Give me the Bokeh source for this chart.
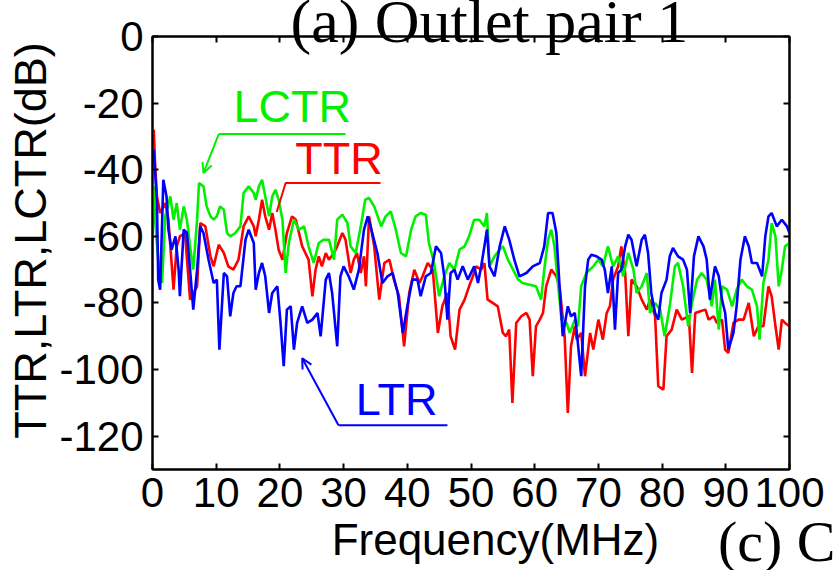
from bokeh.embed import file_html
from bokeh.models import Arrow, FixedTicker, Label, LinearAxis, OpenHead, Range1d
from bokeh.plotting import figure
from bokeh.resources import INLINE

# Frequency axis (MHz) and level axis (dB) ticks
x_ticks = [0, 10, 20, 30, 40, 50, 60, 70, 80, 90, 100]
y_ticks = [0, -20, -40, -60, -80, -100, -120]
y_tick_labels = ["0", "-20", "-40", "-60", "-80", "-100", "-120"]

# TTR (red)
ttr_freq = [
    0.2, 0.4, 0.7, 1.2, 2.0, 2.5, 3.3, 3.8, 4.3, 5.1,
    5.9, 7.0, 7.5, 8.3, 9.1, 9.6, 10.4, 11.2, 11.9, 12.7,
    13.5, 14.3, 15.1, 15.9, 16.2, 16.7, 17.2, 17.7, 18.3, 18.8,
    19.3, 19.8, 20.4, 21.1, 21.9, 22.5, 23.0, 23.5, 24.0, 24.5,
    25.1, 25.6, 26.1, 26.6, 27.2, 27.7, 28.5, 29.0, 29.8, 30.3,
    31.1, 31.6, 32.1, 32.7, 33.2, 33.5, 34.0, 34.8, 35.6, 36.4,
    37.2, 37.9, 38.7, 39.5, 40.3, 41.1, 41.9, 42.4, 43.2, 44.0,
    44.8, 45.5, 46.3, 46.8, 47.5, 48.2, 49.0, 49.7, 50.3, 50.8,
    51.6, 52.1, 52.6, 53.4, 54.2, 55.0, 55.5, 56.0, 56.5, 57.1,
    57.9, 58.7, 59.2, 59.7, 60.2, 60.8, 61.3, 61.8, 62.6, 63.4,
    63.9, 64.7, 65.2, 65.7, 66.3, 66.6, 67.3, 67.9, 68.7, 69.2,
    70.0, 70.7, 71.3, 71.8, 72.3, 73.1, 73.6, 74.2, 74.7, 75.2,
    76.0, 76.8, 77.6, 78.1, 78.9, 79.4, 80.2, 80.7, 81.5, 82.3,
    83.1, 84.2, 84.7, 85.2, 86.0, 86.8, 87.3, 88.1, 88.6, 89.4,
    89.9, 90.4, 91.2, 92.0, 92.8, 93.6, 94.4, 95.1, 95.9, 96.7,
    97.2, 97.8, 98.3, 98.8, 99.3, 100.0,
]
ttr_db = [
    -28, -38, -48, -53, -50, -55, -76, -63, -60, -59,
    -79, -75, -56, -57, -66, -69, -62.5, -65, -69, -70,
    -67, -57, -54, -57, -60, -55, -49, -54, -58, -53,
    -58, -64, -67, -59, -54, -55, -59, -63, -65, -67,
    -78, -70, -66, -69, -65, -67, -65, -63, -59, -61,
    -71, -67, -65, -71, -66, -75, -54, -63, -79, -68,
    -67, -73, -78, -93, -77, -70, -74, -72, -68, -70,
    -89, -81, -77, -90, -94, -82, -79, -75, -72, -69,
    -70, -68, -79, -80, -81, -89, -90, -88, -110, -86,
    -84, -83, -85, -102, -87, -85, -83, -75, -70, -72,
    -75, -90, -113, -93, -87, -91, -89, -102, -89, -94,
    -85, -91, -83, -81, -73, -69, -63, -71, -90, -73,
    -75, -79, -82, -79, -84, -105, -106, -90, -88, -82,
    -85, -84, -101, -83, -82.5, -82, -85, -84, -86, -85,
    -94, -95, -86, -85, -85, -80, -90, -87, -87, -75,
    -78, -87, -94, -85, -86, -87,
]

# LCTR (green)
lctr_freq = [
    0.2, 0.4, 0.9, 1.5, 2.0, 2.8, 3.3, 3.8, 4.3, 4.9,
    5.4, 5.9, 6.4, 7.0, 7.3, 8.0, 8.5, 9.1, 9.6, 10.1,
    10.6, 11.2, 11.7, 12.2, 13.0, 13.8, 14.3, 15.1, 15.9, 16.2,
    16.7, 17.2, 17.7, 18.3, 18.8, 19.3, 19.8, 20.4, 20.9, 21.4,
    22.2, 23.0, 23.8, 24.5, 25.3, 26.1, 26.9, 27.7, 28.5, 29.0,
    29.8, 30.6, 31.1, 31.9, 32.7, 33.4, 34.0, 34.8, 35.9, 36.6,
    37.4, 38.2, 39.0, 39.8, 40.6, 41.3, 42.1, 42.9, 43.4, 44.2,
    45.0, 45.8, 46.6, 47.4, 48.2, 49.0, 49.7, 50.5, 51.3, 52.1,
    52.5, 52.9, 53.7, 54.5, 55.0, 55.8, 56.6, 57.4, 58.1, 59.2,
    60.2, 61.0, 61.5, 62.1, 62.6, 63.1, 63.6, 64.2, 65.0, 65.5,
    66.3, 66.8, 67.3, 68.1, 69.2, 70.0, 70.7, 71.5, 72.3, 73.1,
    73.9, 74.7, 75.5, 76.0, 76.8, 77.6, 78.1, 78.9, 79.7, 80.4,
    81.2, 82.0, 82.5, 83.3, 84.1, 84.7, 85.5, 86.2, 87.0, 87.8,
    88.3, 88.9, 89.4, 90.2, 91.0, 91.7, 92.5, 93.3, 94.1, 94.9,
    95.3, 95.9, 96.7, 97.2, 97.8, 98.3, 98.8, 99.3, 100.0,
]
lctr_db = [
    -45, -55, -67, -74, -54, -48, -55, -50, -58, -51,
    -55, -63, -70, -55, -44, -45, -51, -54, -55, -54,
    -51, -52, -59, -60, -59, -57, -47, -45, -47, -49,
    -45, -43, -48, -54, -48, -46, -49, -55, -71, -62,
    -55, -58, -57, -63, -68, -62, -61, -61, -67, -55,
    -53.5, -56, -63, -65, -57, -49, -48.5, -51, -57, -54,
    -52.5, -58, -65, -66, -58, -54, -53, -53.5, -62, -68,
    -78, -72, -68, -70, -64, -63, -60, -55, -55, -57,
    -53, -69, -66, -64, -63, -67, -70, -73, -74, -74.5,
    -75, -79, -70, -61, -58, -63, -73, -85, -86, -89,
    -85, -87, -75, -71, -69, -67, -69, -63, -69, -66,
    -72, -65, -70, -77, -75, -71, -83, -80, -82, -90,
    -81, -69, -68, -75, -87, -80, -73, -71, -73, -81,
    -73, -88, -75, -76, -81, -76, -73, -75, -76, -81,
    -91, -74, -67, -56, -60, -75, -70, -63, -62,
]

# LTR (blue)
ltr_freq = [
    0.2, 0.7, 0.9, 1.2, 1.7, 2.2, 2.5, 3.0, 3.6, 4.1,
    4.3, 4.9, 5.4, 5.9, 6.4, 7.0, 7.5, 8.0, 8.8, 9.6,
    10.1, 10.5, 11.2, 11.7, 12.2, 12.7, 13.2, 13.8, 14.6, 15.1,
    15.9, 16.2, 16.7, 17.2, 17.7, 18.3, 18.8, 19.6, 20.1, 20.6,
    21.1, 21.7, 22.2, 22.7, 23.5, 24.3, 25.1, 25.9, 26.4, 27.2,
    27.7, 28.2, 29.0, 29.5, 30.0, 30.8, 31.6, 32.4, 33.2, 33.8,
    34.5, 35.3, 36.1, 36.9, 37.7, 38.5, 39.3, 40.0, 40.8, 41.6,
    42.1, 42.9, 43.7, 44.5, 45.3, 45.8, 46.3, 46.8, 47.4, 47.9,
    48.7, 49.5, 50.5, 51.1, 51.6, 52.1, 52.5, 52.9, 53.7, 54.5,
    55.3, 56.0, 56.8, 57.6, 58.7, 59.7, 60.8, 61.5, 62.1, 62.8,
    63.4, 63.9, 64.4, 65.2, 65.7, 66.3, 67.3, 67.9, 68.4, 68.9,
    69.7, 70.5, 71.0, 71.5, 72.1, 72.6, 73.1, 73.6, 74.2, 74.7,
    75.2, 76.0, 76.8, 77.3, 77.8, 78.3, 78.9, 79.4, 79.9, 80.7,
    81.2, 81.7, 82.5, 83.3, 83.9, 84.4, 85.0, 85.7, 86.5, 87.0,
    87.5, 88.3, 88.9, 89.4, 89.9, 90.4, 91.2, 91.7, 92.3, 93.0,
    93.6, 94.1, 94.9, 95.7, 96.2, 96.7, 97.2, 98.0, 98.8, 99.6,
    100.0,
]
ltr_db = [
    -34, -50, -73, -76, -43, -48, -58, -64, -60, -70,
    -78, -58, -59, -70, -82, -70, -57, -59, -67, -74,
    -73, -94, -71, -72, -84, -77, -75, -75, -61, -58,
    -62, -76, -71, -68, -72, -83, -77, -75, -86, -99,
    -82, -81, -94, -86, -81, -86, -85, -83, -90, -73,
    -71, -77, -93, -72, -69, -72, -76, -70, -58, -54,
    -59, -65, -74, -72, -71, -77, -89, -81, -73, -73,
    -78, -72, -71, -63, -65, -72, -85, -71, -70, -73,
    -69, -73, -69, -74, -69, -63, -58, -69, -72, -63,
    -57, -61, -67, -72, -71, -69, -68, -63, -53, -53,
    -59, -75, -90, -81, -84, -83, -102, -75, -67, -65.5,
    -66, -67, -70, -77, -69, -88, -71, -70, -63, -59.5,
    -61, -69, -61, -59.5, -65, -77, -83, -85, -77, -73,
    -66, -63.5, -66, -67, -70, -83, -66, -60, -63, -67,
    -79, -69, -72, -79, -83, -94, -89, -81, -67, -60,
    -63, -68, -68, -72, -60, -54, -53, -57, -55, -57,
    -59,
]

RED = "#ff0000"
GREEN = "#00f000"
BLUE = "#0000ff"
SANS = "Liberation Sans"
SERIF = "Liberation Serif"
NBSP = "\u00a0"

p = figure(
    width=838, height=570,
    x_range=Range1d(0, 100), y_range=Range1d(-130, 0),
    output_backend="svg", toolbar_location=None,
    min_border_left=152, min_border_right=49,
    min_border_top=36, min_border_bottom=101,
    background_fill_color="white", border_fill_color="white",
)
p.grid.visible = False
p.outline_line_color = "black"
p.outline_line_width = 2

bottom_axis = p.xaxis[0]
left_axis = p.yaxis[0]
for ax in (bottom_axis, left_axis):
    ax.axis_line_width = 2
    ax.axis_line_color = "black"
    ax.major_tick_in = 6
    ax.major_tick_out = 0
    ax.major_tick_line_width = 2
    ax.minor_tick_line_color = None
    ax.major_label_text_font = SANS
    ax.major_label_text_color = "black"
    ax.axis_label_text_font = SANS
    ax.axis_label_text_font_style = "normal"
    ax.axis_label_text_color = "black"
bottom_axis.ticker = FixedTicker(ticks=x_ticks)
left_axis.ticker = FixedTicker(ticks=y_ticks)
left_axis.major_label_overrides = dict(zip(y_ticks, y_tick_labels))
bottom_axis.major_label_text_font_size = "42px"
left_axis.major_label_text_font_size = "42px"
bottom_axis.major_label_standoff = 8
left_axis.major_label_standoff = 9

# Level axis title (leading non-breaking spaces lift it a little)
left_axis.axis_label = NBSP * 2 + "TTR,LTR,LCTR(dB)"
left_axis.axis_label_text_font_size = "45px"
left_axis.axis_label_standoff = 0

# Tick marks on the top and right edges of the box
top_axis = LinearAxis(ticker=FixedTicker(ticks=x_ticks))
right_axis = LinearAxis(ticker=FixedTicker(ticks=y_ticks))
for ax in (top_axis, right_axis):
    ax.axis_line_width = 2
    ax.major_tick_in = 6
    ax.major_tick_out = 0
    ax.major_tick_line_width = 2
    ax.minor_tick_line_color = None
    ax.major_label_standoff = 0
    ax.major_label_text_font_size = "1px"
    ax.major_label_text_color = None
p.add_layout(top_axis, "above")
p.add_layout(right_axis, "right")

# Second row under the frequency ticks: the next panel's caption as a lone
# tick label, with the frequency axis title beneath it
p.extra_x_ranges = {"caption": Range1d(0, 100)}
caption_axis = LinearAxis(
    x_range_name="caption",
    ticker=FixedTicker(ticks=[98]),
    major_label_overrides={98: "(c) C"},
    major_label_text_font=SERIF,
    major_label_text_font_size="58px",
    major_label_text_color="black",
    major_label_standoff=-1,
    major_tick_in=0, major_tick_out=0,
    major_tick_line_color=None, minor_tick_line_color=None,
    axis_line_color=None,
    axis_label=NBSP * 4 + "Frequency(MHz)",
    axis_label_text_font=SANS,
    axis_label_text_font_size="44px",
    axis_label_text_font_style="normal",
    axis_label_text_color="black",
    axis_label_standoff=-62,
)
p.add_layout(caption_axis, "below")

# Panel title
p.title.text = "(a) Outlet pair 1"
p.title.text_font = SERIF
p.title.text_font_size = "62px"
p.title.text_font_style = "normal"
p.title.text_color = "black"
p.title.align = "left"
p.title.offset = 138
p.title.vertical_align = "bottom"
p.title.standoff = -36

# Curves
p.line(ttr_freq, ttr_db, line_color=RED, line_width=2.6)
p.line(lctr_freq, lctr_db, line_color=GREEN, line_width=2.6)
p.line(ltr_freq, ltr_db, line_color=BLUE, line_width=2.6)

# Curve labels with leader lines
p.add_layout(Label(x=12.7, y=-20.9, text="LCTR", text_color=GREEN,
                   text_font=SANS, text_font_size="45px",
                   text_align="left", text_baseline="alphabetic"))
p.line([30.3, 10.4], [-29.3, -29.3], line_color=GREEN, line_width=2)
p.add_layout(Arrow(x_start=10.4, y_start=-29.3, x_end=8.0, y_end=-41.0,
                   line_color=GREEN, line_width=2,
                   end=OpenHead(size=10, line_color=GREEN, line_width=2)))

p.add_layout(Label(x=22.4, y=-36.5, text="TTR", text_color=RED,
                   text_font=SANS, text_font_size="45px",
                   text_align="left", text_baseline="alphabetic"))
p.line([35.8, 20.9, 19.5], [-44.0, -44.0, -52.7], line_color=RED, line_width=2)

p.add_layout(Label(x=31.9, y=-108.9, text="LTR", text_color=BLUE,
                   text_font=SANS, text_font_size="45px",
                   text_align="left", text_baseline="alphabetic"))
p.line([46.3, 29.2], [-116.7, -116.7], line_color=BLUE, line_width=2)
p.add_layout(Arrow(x_start=29.2, y_start=-116.7, x_end=23.5, y_end=-96.6,
                   line_color=BLUE, line_width=2,
                   end=OpenHead(size=10, line_color=BLUE, line_width=2)))

open("out.html", "w").write(file_html(p, INLINE))
